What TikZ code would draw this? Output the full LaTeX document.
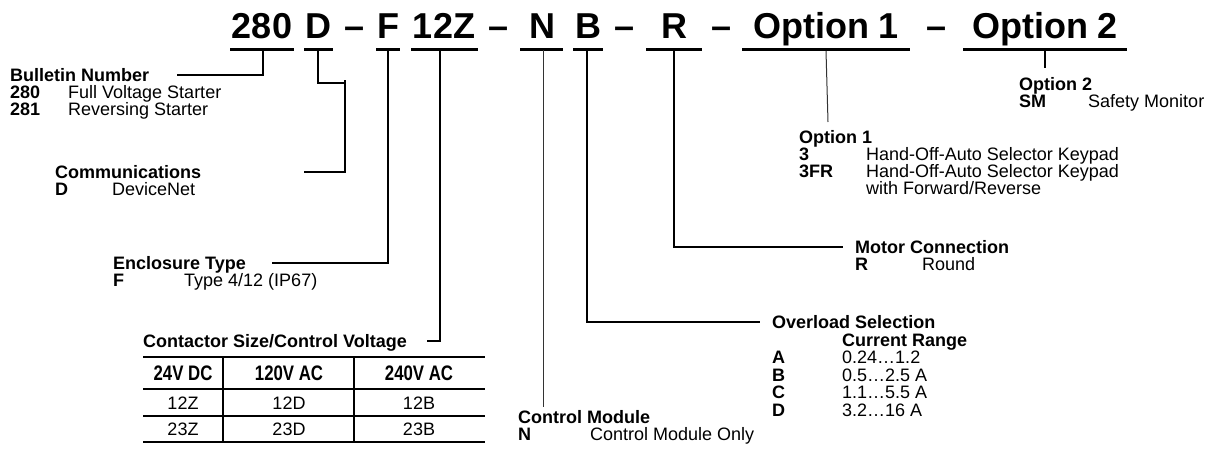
\documentclass[tikz,border=0pt]{standalone}
\usepackage{fontspec}
\setmainfont{Liberation Sans}
\newfontfamily\condfont{Liberation Sans}[FakeStretch=0.8]
\usetikzlibrary{positioning}

\begin{document}
\begin{tikzpicture}[x=1pt, y=-1pt,
  head/.style={font=\fontsize{36}{40}\selectfont\bfseries, inner sep=0pt, text height=26pt, text depth=0pt},
  ttl/.style={font=\fontsize{18}{20}\selectfont\bfseries, anchor=west, inner sep=0pt, text height=13pt, text depth=0pt},
  desc/.style={ttl, font=\fontsize{18}{20}\selectfont},
  thd/.style={font=\condfont\fontsize{21}{24}\selectfont\bfseries, inner sep=0pt, text height=15pt, text depth=0pt},
  tcl/.style={font=\fontsize{18}{20}\selectfont, inner sep=0pt, text height=13pt, text depth=0pt},
  bar/.style={line width=3pt},
  lead/.style={line width=2.5pt},
  hair/.style={line width=1pt, black!80}]
  \useasboundingbox (0,0) rectangle (1209,460);

  % catalogue number
  \node[head] (k280) at (262,25.5) {280};
  \node[head] (kD) at (318,25.5) {D};
  \node[head] (s1) at (355,25.5) {–};
  \node[head] (kF) at (388,25.5) {F};
  \node[head] (k12Z) at (444,25.5) {12Z};
  \node[head] (s2) at (499,25.5) {–};
  \node[head] (kN) at (542,25.5) {N};
  \node[head] (kB) at (588,25.5) {B};
  \node[head] (s3) at (625,25.5) {–};
  \node[head] (kR) at (674,25.5) {R};
  \node[head] (s4) at (722,25.5) {–};
  \node[head] (kOpt1) at (826,25.5) {Option 1};
  \node[head] (s5) at (936,25.5) {–};
  \node[head] (kOpt2) at (1045,25.5) {Option 2};
  \foreach \l/\r in {230/294, 304/333, 376/400, 411/478, 520/563, 573/603, 646/702, 742/910, 963/1127}
    \draw[bar] (\l,50) -- (\r,50);

  % bulletin number
  \node[ttl] (bulletin) at (10,75) {Bulletin Number};
  \node[ttl] (c280) at (10,92) {280};
  \node[desc] (d280) at (68,92) {Full Voltage Starter};
  \node[ttl] (c281) at (10,109) {281};
  \node[desc] (d281) at (68,109) {Reversing Starter};

  % communications
  \node[ttl] (comm) at (55,172) {Communications};
  \node[ttl] (cD) at (55,189) {D};
  \node[desc] (dD) at (112,189) {DeviceNet};

  % enclosure
  \node[ttl] (encl) at (113,263) {Enclosure Type};
  \node[ttl] (cF) at (113,280) {F};
  \node[desc] (dF) at (184,280) {Type 4/12 (IP67)};

  % contactor table
  \node[ttl] (cont) at (143,341) {Contactor Size/Control Voltage};
  \draw[line width=2.7pt] (143,357) -- (485,357);
  \draw[line width=2pt] (143,389) -- (485,389);
  \draw[line width=1.3pt] (143,416) -- (485,416);
  \draw[line width=2pt] (143,442) -- (485,442);
  \draw[line width=2.5pt] (223,357) -- (223,442);
  \draw[line width=2.5pt] (354,357) -- (354,442);
  \foreach \x/\h/\a/\b in {183/24V DC/12Z/23Z, 289/120V AC/12D/23D, 419/240V AC/12B/23B} {
    \node[thd] (h\x) at (\x,373) {\h};
    \node[tcl] (a\x) at (\x,402.5) {\a};
    \node[tcl] (b\x) at (\x,429) {\b};
  }

  % control module
  \node[ttl] (ctrl) at (518,417) {Control Module};
  \node[ttl] (cN) at (518,434) {N};
  \node[desc] (dN) at (590,434) {Control Module Only};

  % overload
  \node[ttl] (ovl) at (772,322) {Overload Selection};
  \node[ttl] (rng) at (842,339.5) {Current Range};
  \foreach \c/\v [count=\i] in {A/0.24…1.2, B/0.5…2.5 A, C/1.1…5.5 A, D/3.2…16 A} {
    \node[ttl] (o\c) at (772,339.5+17.5*\i) {\c};
    \node[desc] (v\c) at (842,339.5+17.5*\i) {\v};
  }

  % motor connection
  \node[ttl] (motor) at (855,247) {Motor Connection};
  \node[ttl] (cR) at (855,264) {R};
  \node[desc] (dR) at (922,264) {Round};

  % option 1
  \node[ttl] (opt1) at (799,137) {Option 1};
  \node[ttl] (c3) at (799,154) {3};
  \node[desc] (d3) at (866,154) {Hand-Off-Auto Selector Keypad};
  \node[ttl] (c3FR) at (799,171) {3FR};
  \node[desc] (d3FR) at (866,171) {Hand-Off-Auto Selector Keypad};
  \node[desc] (d3FRb) at (866,188) {with Forward/Reverse};

  % option 2
  \node[ttl] (opt2) at (1019,84) {Option 2};
  \node[ttl] (cSM) at (1019,101) {SM};
  \node[desc] (dSM) at (1088,101) {Safety Monitor};

  % leaders
  \coordinate (t280) at (263,50);   \coordinate (e280) at (177,75);
  \coordinate (tD) at (318,50);     \coordinate (jD) at (345,83);  \coordinate (eD) at (304,172);
  \coordinate (tF) at (388,50);     \coordinate (eF) at (272,263);
  \coordinate (t12Z) at (440,50);   \coordinate (e12Z) at (427,341);
  \coordinate (tN) at (543,50);     \coordinate (eN) at (543,407);
  \coordinate (tB) at (587,50);     \coordinate (eB) at (760,322);
  \coordinate (tR) at (674,50);     \coordinate (eR) at (843,247);
  \coordinate (tO1) at (826,51);    \coordinate (eO1) at (828,122);
  \coordinate (tO2) at (1045,50);   \coordinate (eO2) at (1045,68);
  \draw[lead] (t280) |- (e280);
  \draw[lead] (tD) |- (jD) |- (eD);
  \draw[lead] (jD) -- ++(0,-3);
  \draw[lead] (tF) |- (eF);
  \draw[lead] (t12Z) |- (e12Z);
  \draw[hair] (tN) -- (eN);
  \draw[lead] (tB) |- (eB);
  \draw[lead] (tR) |- (eR);
  \draw[hair] (tO1) -- (eO1);
  \draw[lead] (tO2) -- (eO2);
\end{tikzpicture}
\end{document}
